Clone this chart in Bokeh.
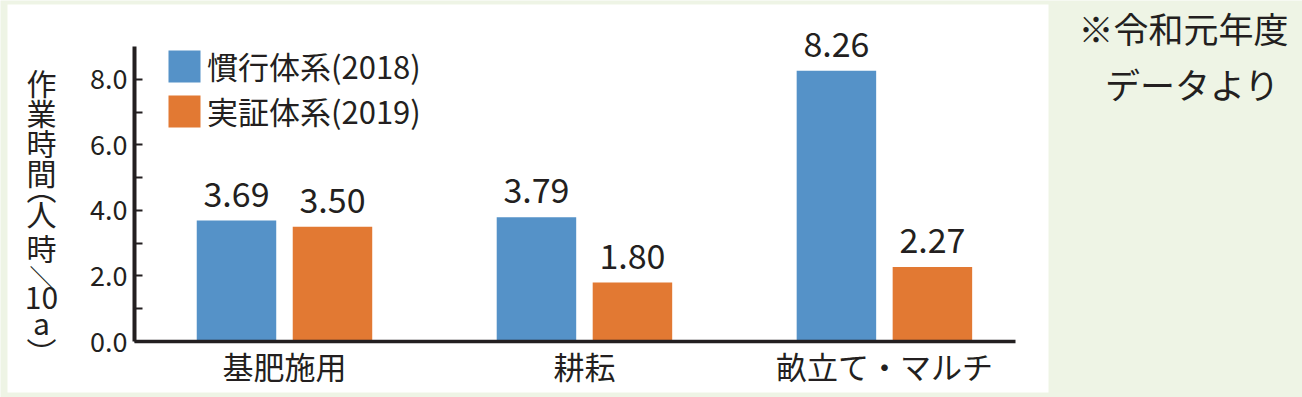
from bokeh.plotting import figure
from bokeh.models import (Range1d, FixedTicker, PrintfTickFormatter, Legend, LegendItem,
                          Label, LabelSet, ColumnDataSource, LinearAxis, BoxAnnotation)
from bokeh.transform import dodge
from bokeh.core.properties import value
from bokeh.embed import file_html
from bokeh.resources import INLINE

# ---- data ----
categories = ["基肥施用", "耕耘", "畝立て・マルチ"]
series_names = ["慣行体系(2018)", "実証体系(2019)"]
conventional = [3.69, 3.79, 8.26]
demonstration = [3.50, 1.80, 2.27]
y_ticks = [0, 2, 4, 6, 8]
y_minor_ticks = [1, 3, 5, 7]
y_label_parts = ["作", "業", "時", "間", "︵", "人", "時", "＼", "10", "a", "︶"]
note_lines = ["※令和元年度", "データより"]

# ---- style / layout ----
FONT = "Noto Sans CJK JP"
TEXT = "#231f20"
BLUE = "#5592c8"
ORANGE = "#e27933"
BG = "#eef4e5"
W_PX, H_PX = 1302, 397

Y_MAX = 9.0
X_END = 2.937
AX_LEFT, AX_RIGHT = 134, 1015      # px of x-axis extent
AX_TOP, AX_BOTTOM = 46, 341        # px of y-axis extent
PXX = (AX_RIGHT - AX_LEFT) / X_END
PXY = (AX_BOTTOM - AX_TOP) / Y_MAX

def dx(px):
    return (px - AX_LEFT) / PXX

def dy(py):
    return (AX_BOTTOM - py) / PXY

xs = [i + 0.5 for i in range(len(categories))]
src = ColumnDataSource(dict(
    x=xs,
    conv=conventional,
    demo=demonstration,
    conv_lbl=[f"{v:.2f}" for v in conventional],
    demo_lbl=[f"{v:.2f}" for v in demonstration],
))

p = figure(width=W_PX, height=H_PX,
           x_range=Range1d(dx(0), dx(W_PX)), y_range=Range1d(dy(H_PX), dy(0)),
           x_axis_type=None, y_axis_type=None,
           output_backend="svg", toolbar_location=None, min_border=0)
p.min_border_left = p.min_border_right = p.min_border_top = p.min_border_bottom = 0
p.outline_line_color = None
p.background_fill_color = BG
p.border_fill_color = BG

# white panel
p.add_layout(BoxAnnotation(left=dx(7), right=dx(1048), top=dy(4), bottom=dy(392),
                           fill_color="white", fill_alpha=1, line_color=None,
                           level="underlay"))

OFF = 0.16
W = 0.265
r1 = p.vbar(x=dodge("x", -OFF, range=p.x_range), top="conv", width=W, source=src,
            fill_color=BLUE, line_color=None)
r2 = p.vbar(x=dodge("x", OFF, range=p.x_range), top="demo", width=W, source=src,
            fill_color=ORANGE, line_color=None)

for off, col in ((-OFF, "conv"), (OFF, "demo")):
    p.add_layout(LabelSet(x=dodge("x", off, range=p.x_range), y=col, text=col + "_lbl",
                          source=src, text_align="center", text_baseline="alphabetic",
                          y_offset=14, text_font=value(FONT), text_font_size="34px",
                          text_color=TEXT))

# y axis
ya = LinearAxis(fixed_location=0, bounds=(0, Y_MAX),
                ticker=FixedTicker(ticks=y_ticks, minor_ticks=y_minor_ticks),
                formatter=PrintfTickFormatter(format="%.1f"))
ya.axis_line_width = 4
ya.axis_line_color = TEXT
ya.major_tick_in = 8
ya.major_tick_out = 0
ya.minor_tick_in = 8
ya.minor_tick_out = 0
ya.major_tick_line_width = 2
ya.minor_tick_line_width = 2
ya.major_tick_line_color = TEXT
ya.minor_tick_line_color = TEXT
ya.major_label_text_font = FONT
ya.major_label_text_font_size = "27px"
ya.major_label_text_color = TEXT
ya.major_label_standoff = 7
p.add_layout(ya, "left")

# x axis
xa = LinearAxis(fixed_location=0, bounds=(0, X_END), ticker=FixedTicker(ticks=xs))
xa.major_label_overrides = {x: c for x, c in zip(xs, categories)}
xa.axis_line_width = 3.5
xa.axis_line_color = TEXT
xa.major_tick_in = 0
xa.major_tick_out = 0
xa.minor_tick_in = 0
xa.minor_tick_out = 0
xa.major_label_text_font = FONT
xa.major_label_text_font_size = "31px"
xa.major_label_text_color = TEXT
xa.major_label_standoff = 1
p.add_layout(xa, "below")

legend = Legend(items=[LegendItem(label=series_names[0], renderers=[r1]),
                       LegendItem(label=series_names[1], renderers=[r2])],
                location=(164, H_PX - 133), glyph_width=40, glyph_height=40, spacing=0,
                padding=0, margin=0, label_standoff=3,
                label_text_font=FONT, label_text_font_size="31px", label_text_color=TEXT,
                border_line_color=None, background_fill_alpha=0)
p.add_layout(legend)

# vertical y-axis title: upright stacked characters; vertical-form brackets sit
# off-centre in their em box, hence their shifted anchors
ylab_centers = [81.5, 111, 141, 171, 186, 212.5, 246.5, 275, 297.5, 321.5, 350]  # px
ylab_sizes = ["30px"] * 7 + ["24px"] + ["30px"] * 3
for ch, yc, fs in zip(y_label_parts, ylab_centers, ylab_sizes):
    p.add_layout(Label(x=41, y=H_PX - yc, x_units="screen", y_units="screen", text=ch,
                       text_align="center", text_baseline="middle",
                       text_font=FONT, text_font_size=fs, text_color=TEXT))

# note
p.add_layout(Label(x=1183, y=H_PX - 26.5, x_units="screen", y_units="screen",
                   text=note_lines[0], text_align="center", text_baseline="middle",
                   text_font=FONT, text_font_size="35px", text_color=TEXT))
p.add_layout(Label(x=1192, y=H_PX - 83, x_units="screen", y_units="screen",
                   text=note_lines[1], text_align="center", text_baseline="middle",
                   text_font=FONT, text_font_size="35px", text_color=TEXT))

open("out.html", "w").write(file_html(p, INLINE))
